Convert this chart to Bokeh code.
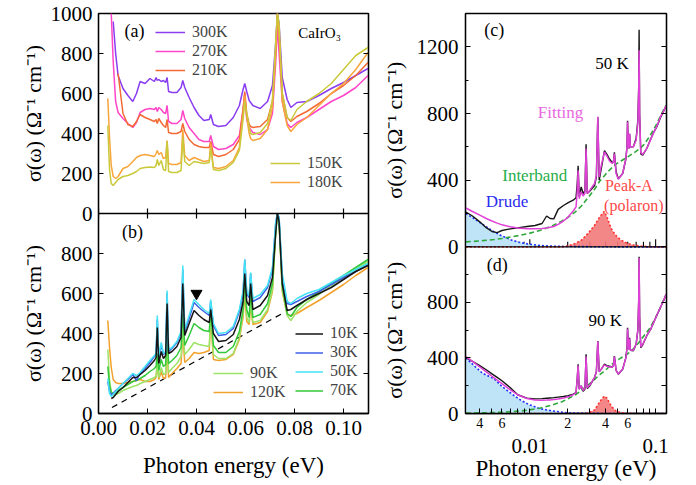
import math
from bokeh.plotting import figure
from bokeh.models import (Range1d, LinearAxis, LogAxis, FixedTicker, Legend, LegendItem,
                          Label, PrintfTickFormatter, CustomJSTickFormatter, Span)
from bokeh.layouts import row
from bokeh.embed import file_html
from bokeh.resources import INLINE

nan = float("nan")
FONT = "Liberation Serif"
YLABEL = "σ(ω) (Ω⁻¹ cm⁻¹)"

# ---------------- data: panels (a) and (b), photon energy in eV ----------------
E_ab = [0.0038, 0.0045, 0.0052, 0.0060, 0.0070, 0.0080, 0.0100, 0.0120, 0.0140, 0.0155,
        0.0170, 0.0190, 0.0210, 0.0228, 0.0235, 0.0240, 0.0246, 0.0256, 0.0265, 0.0274,
        0.0280, 0.0286, 0.0300, 0.0320, 0.0337, 0.0344, 0.0352, 0.0370, 0.0390, 0.0410,
        0.0430, 0.0452, 0.0458, 0.0469, 0.0490, 0.0520, 0.0550, 0.0575, 0.0590, 0.0597,
        0.0605, 0.0615, 0.0621, 0.0630, 0.0660, 0.0690, 0.0710, 0.0723, 0.0730, 0.0737,
        0.0750, 0.0770, 0.0785, 0.0810, 0.0850, 0.0900, 0.0950, 0.1000, 0.1050, 0.1100]

# panel (a)
s300 = [nan, nan, nan, 960, 800, 690, 625, 590, 560, 600,
        660, 650, 675, 660, 680, 665, 670, 660, 665, 655,
        680, 610, 605, 605, 630, 665, 630, 580, 530, 490,
        465, 470, 495, 445, 435, 440, 480, 540, 620, 650,
        610, 565, 555, 540, 525, 560, 640, 850, 1000, 950,
        680, 570, 530, 555, 560, 590, 625, 655, 690, 725]
s270 = [nan, nan, 1000, 760, 560, 505, 475, 450, 430, 455,
        505, 520, 525, 520, 530, 510, 530, 520, 505, 500,
        540, 460, 450, 450, 470, 515, 475, 430, 400, 370,
        360, 360, 390, 335, 320, 325, 345, 390, 520, 600,
        470, 430, 420, 405, 395, 420, 500, 750, 940, 800,
        560, 450, 430, 455, 480, 520, 560, 590, 630, 690]
s210 = [nan, nan, nan, nan, nan, 700, 500, 445, 435, 460,
        495, 480, 470, 460, 470, 450, 475, 455, 440, 430,
        470, 405, 400, 400, 410, 450, 410, 370, 345, 335,
        330, 330, 360, 295, 285, 295, 320, 370, 520, 610,
        500, 445, 435, 430, 435, 470, 560, 800, 1000, 900,
        600, 480, 460, 485, 510, 550, 600, 640, 690, 755]
s180 = [575, 380, 240, 185, 175, 185, 225, 235, 260, 280,
        290, 295, 290, 285, 300, 315, 295, 305, 275, 280,
        365, 250, 245, 245, 255, 420, 290, 265, 280, 270,
        260, 265, 350, 230, 225, 235, 265, 330, 500, 590,
        480, 400, 375, 365, 375, 420, 530, 800, 1000, 900,
        560, 440, 410, 445, 480, 540, 600, 650, 720, 805]
s150 = [440, 220, 150, 140, 155, 170, 185, 190, 200, 210,
        225, 230, 232, 230, 240, 270, 240, 265, 220, 215,
        360, 210, 205, 205, 215, 380, 260, 240, 260, 255,
        250, 255, 330, 220, 215, 225, 255, 315, 470, 560,
        500, 430, 400, 395, 405, 450, 570, 850, 1000, 950,
        600, 480, 465, 520, 560, 600, 650, 720, 790, 830]

# panel (b)
s10 = [nan, nan, 75, 80, 95, 110, 130, 155, 180, 180,
       195, 215, 240, 265, 280, 430, 250, 310, 275, 290,
       550, 300, 310, 335, 380, 650, 390, 450, 515, 490,
       470, 455, 520, 400, 360, 365, 395, 470, 560, 700,
       560, 540, 650, 520, 540, 590, 680, 900, 1000, 960,
       650, 515, 520, 540, 570, 600, 630, 670, 710, 740]
s30 = [160, 110, 95, 100, 115, 125, 150, 170, 195, 165,
       200, 225, 255, 285, 295, 470, 275, 345, 295, 305,
       600, 310, 325, 355, 400, 720, 410, 475, 555, 530,
       510, 490, 560, 440, 390, 395, 425, 510, 600, 770,
       600, 580, 700, 560, 580, 630, 720, 950, 1000, 980,
       680, 550, 545, 560, 585, 610, 645, 680, 710, 745]
s50 = [175, 100, 85, 95, 110, 125, 150, 175, 200, 190,
       205, 235, 265, 290, 300, 490, 285, 355, 300, 310,
       615, 320, 330, 360, 410, 740, 420, 490, 570, 545,
       520, 500, 570, 450, 400, 405, 435, 520, 610, 770,
       610, 590, 705, 575, 595, 640, 730, 950, 1000, 980,
       700, 560, 550, 575, 600, 620, 655, 690, 720, 750]
s70 = [235, 140, 105, 100, 105, 115, 130, 145, 160, 165,
       175, 190, 210, 225, 235, 300, 215, 270, 235, 245,
       420, 250, 265, 290, 330, 500, 340, 390, 450, 430,
       415, 410, 520, 340, 305, 305, 335, 410, 520, 680,
       520, 480, 620, 480, 495, 550, 650, 900, 1000, 960,
       640, 500, 485, 530, 570, 610, 650, 690, 730, 770]
s90 = [320, 170, 110, 95, 95, 100, 115, 125, 135, 140,
       150, 160, 170, 180, 185, 260, 180, 230, 195, 200,
       360, 205, 225, 250, 285, 420, 295, 320, 355, 345,
       340, 335, 500, 295, 275, 275, 300, 380, 500, 650,
       480, 455, 560, 455, 465, 520, 620, 900, 1000, 960,
       620, 490, 465, 510, 555, 595, 640, 680, 720, 760]
s120 = [465, 330, 230, 170, 155, 150, 150, 155, 160, 165,
        170, 160, 160, 170, 180, 250, 170, 210, 175, 180,
        330, 180, 200, 225, 250, 400, 255, 275, 305, 300,
        305, 315, 480, 270, 265, 270, 295, 370, 480, 600,
        460, 445, 540, 445, 455, 510, 610, 900, 1000, 960,
        610, 495, 490, 500, 530, 565, 605, 645, 690, 730]

base_x = [0.0055, 0.075]      # dashed guide in (b)
base_y = [30, 500]
tri_x = [0.040]               # marker in (b)
tri_y = [600]

# ---------------- data: panels (c) 50 K and (d) 90 K ----------------
E_cd = [0.0031, 0.0035, 0.0040, 0.0045, 0.0050, 0.0055, 0.0060, 0.0070, 0.0080, 0.0095,
        0.0110, 0.0125, 0.0136, 0.0145, 0.0155, 0.0168, 0.0185, 0.0202, 0.0221, 0.0233,
        0.0238, 0.0242, 0.0247, 0.0256, 0.0265, 0.0274, 0.0280, 0.0286, 0.0300, 0.0327,
        0.0338, 0.0347, 0.0356, 0.0370, 0.0392, 0.0410, 0.0430, 0.0452, 0.0462, 0.0470,
        0.0485, 0.0505, 0.0547, 0.0580, 0.0592, 0.0598, 0.0607, 0.0615, 0.0621, 0.0630,
        0.0665, 0.0700, 0.0722, 0.0733, 0.0739, 0.0746, 0.0762, 0.0790, 0.0850, 0.0914,
        0.0970, 0.1030, 0.1100, 0.1160, 0.1210]
data50 = [209, 185, 150, 115, 92, 85, 98, 108, 114, 122,
          128, 140, 185, 170, 168, 225, 248, 265, 280, 295,
          380, 487, 300, 360, 320, 335, 615, 320, 335, 368,
          420, 778, 400, 470, 577, 555, 527, 505, 510, 567,
          450, 408, 440, 527, 600, 756, 620, 590, 676, 600,
          600, 650, 760, 950, 1303, 800, 557, 550, 590, 647,
          690, 726, 780, 815, 846]
fit50 = [233, 212, 190, 170, 155, 142, 132, 120, 113, 108,
         108, 110, 113, 117, 122, 135, 155, 180, 215, 240,
         330, 460, 290, 330, 305, 320, 590, 320, 340, 380,
         430, 780, 420, 490, 570, 545, 515, 500, 510, 560,
         440, 405, 440, 530, 600, 750, 610, 590, 680, 600,
         600, 640, 740, 930, 1180, 800, 565, 555, 590, 645,
         690, 730, 785, 815, 846]
data90 = [402, 375, 345, 315, 285, 260, 236, 185, 135, 110,
          105, 107, 110, 112, 114, 118, 122, 128, 140, 150,
          250, 355, 175, 200, 160, 175, 426, 180, 200, 259,
          300, 521, 300, 320, 355, 345, 340, 335, 345, 414,
          310, 283, 319, 402, 470, 617, 500, 462, 545, 455,
          452, 500, 600, 800, 1128, 700, 474, 495, 560, 607,
          660, 714, 770, 815, 857]
fit90 = [410, 375, 335, 300, 268, 240, 215, 170, 135, 108,
         98, 96, 97, 98, 100, 105, 112, 120, 135, 150,
         250, 345, 175, 200, 165, 180, 410, 185, 205, 260,
         300, 520, 300, 320, 350, 340, 335, 335, 345, 410,
         310, 285, 320, 400, 470, 610, 500, 460, 540, 455,
         455, 500, 600, 800, 1120, 700, 480, 500, 560, 610,
         660, 715, 770, 815, 857]

E_comp = [0.0031, 0.0036, 0.0042, 0.0052, 0.0060, 0.0072, 0.0085, 0.0098, 0.0120, 0.0150,
          0.0180, 0.0200, 0.0230, 0.0257, 0.0290, 0.0327, 0.0360, 0.0390, 0.0410, 0.0443,
          0.0480, 0.0530, 0.0600, 0.0675, 0.0750, 0.0800, 0.0900, 0.1000, 0.1100, 0.1210]
drude50 = [200, 170, 135, 90, 65, 40, 25, 16, 8, 4,
           2.5, 2, 1.5, 1, 1, 0.5, 0.5, 0.5, 0.5, 0.5,
           0, 0, 0, 0, 0, 0, 0, 0, 0, 0]
inter50 = [30, 33, 37, 44, 50, 60, 70, 80, 98, 125,
           155, 175, 210, 245, 295, 345, 395, 425, 445, 470,
           495, 515, 540, 565, 590, 610, 665, 725, 790, 850]
peak50 = [0, 0, 0, 0, 0, 0, 0, 0, 0, 0,
          0, 5, 20, 40, 80, 129, 180, 212, 180, 110,
          70, 40, 20, 10, 5, 3, 1, 0, 0, 0]
drude90 = [400, 345, 290, 250, 195, 140, 95, 65, 35, 19,
           9, 5, 3, 2, 1, 1, 0.5, 0.5, 0.5, 0.5,
           0, 0, 0, 0, 0, 0, 0, 0, 0, 0]
inter90 = [3, 4, 5, 7, 9, 13, 18, 25, 38, 60,
           85, 105, 135, 165, 205, 245, 280, 305, 322, 350,
           375, 400, 430, 470, 520, 555, 615, 690, 770, 857]
peak90 = [0, 0, 0, 0, 0, 0, 0, 0, 0, 0,
          0, 0, 0, 0, 3, 25, 85, 125, 110, 55,
          20, 6, 2, 0.5, 0, 0, 0, 0, 0, 0]

# ---------------- ticks ----------------
x_ticks_ab = [0.0, 0.02, 0.04, 0.06, 0.08, 0.10]
y_ticks_a = [0, 200, 400, 600, 800, 1000]
y_ticks_b = [0, 200, 400, 600, 800]
y_ticks_c = [0, 400, 800, 1200]
y_minor_c = [200, 600, 1000]
y_ticks_d = [0, 400, 800]
y_minor_d = [200, 600, 1000]
log_major = [0.01, 0.1]
log_minor = [0.004, 0.005, 0.006, 0.007, 0.008, 0.009,
             0.02, 0.03, 0.04, 0.05, 0.06, 0.07, 0.08, 0.09]
log_small = [0.004, 0.006, 0.02, 0.04, 0.06]
log_small_labels = ["4", "6", "2", "4", "6"]

EMPTY = CustomJSTickFormatter(code="return ''")
H = 485
TOP_L, BOT = 13, 72
TOP_R = 10


def style_axis(ax, size="21px"):
    ax.axis_line_color = "black"
    ax.axis_line_width = 1.3
    ax.major_tick_line_color = "black"
    ax.minor_tick_line_color = "black"
    ax.major_tick_in = 5
    ax.major_tick_out = 0
    ax.minor_tick_in = 3
    ax.minor_tick_out = 0
    ax.major_label_text_font = FONT
    ax.major_label_text_font_size = size
    ax.major_label_text_color = "black"
    ax.axis_label_text_font = FONT
    ax.axis_label_text_font_style = "normal"
    ax.axis_label_text_font_size = "23px"
    ax.axis_label_text_color = "black"


def base_fig(**kw):
    p = figure(output_backend="svg", toolbar_location=None, **kw)
    p.grid.visible = False
    p.outline_line_color = "black"
    p.outline_line_width = 1.3
    p.background_fill_color = "white"
    p.border_fill_color = "white"
    return p


def title_fig(width, y_range, extra, top):
    t = figure(width=width, height=H, x_range=Range1d(0, 1), y_range=y_range,
               output_backend="svg", toolbar_location=None,
               x_axis_location=None, y_axis_location=None,
               min_border_left=0, min_border_right=0, min_border_top=top, min_border_bottom=BOT)
    t.extra_y_ranges = extra
    t.grid.visible = False
    t.outline_line_color = None
    t.background_fill_color = "white"
    t.border_fill_color = "white"
    return t


def legend(items, loc, glyph_w=30, lh=18):
    return Legend(items=items, location=loc, margin=0, padding=0, spacing=1,
                  glyph_width=glyph_w, glyph_height=lh, label_height=lh,
                  label_standoff=7, label_text_font=FONT, label_text_font_size="16px",
                  border_line_alpha=0, background_fill_alpha=0)


def label(p, x, y, text, size="17px", color="black", angle=0.0, rng="default"):
    p.add_layout(Label(x=x, y=y, text=text, text_font=FONT, text_font_size=size,
                       text_color=color, text_align="center", text_baseline="middle",
                       angle=angle, y_range_name=rng))


# =============== left column: (a) on top, (b) below, one frame ===============
yr_l = Range1d(0, 2000)            # carries (b)
yr_a = Range1d(-1000, 1000)        # puts (a) in the upper half
A_OFF = 1000

fl = base_fig(width=335, height=H, x_range=Range1d(0, 0.1102), y_range=yr_l,
              min_border_left=53, min_border_right=12, min_border_top=TOP_L, min_border_bottom=BOT)
fl.extra_y_ranges = {"a": yr_a}

fl.xaxis.ticker = FixedTicker(ticks=x_ticks_ab)
fl.xaxis.formatter = PrintfTickFormatter(format="%.2f")
style_axis(fl.xaxis[0])
fl.xaxis.major_label_standoff = 7
fl.xaxis.axis_label = "Photon energy (eV)"
fl.xaxis.axis_label_standoff = 15

left_ticks = y_ticks_b + [v + A_OFF for v in y_ticks_a]
left_labels = [str(v) for v in y_ticks_b] + [str(v) for v in y_ticks_a]
fl.yaxis.ticker = FixedTicker(ticks=left_ticks)
fl.yaxis.major_label_overrides = dict(zip(left_ticks, left_labels))
style_axis(fl.yaxis[0])
fl.yaxis.major_label_standoff = 6
rl = LinearAxis(ticker=FixedTicker(ticks=left_ticks), formatter=EMPTY)
style_axis(rl)
rl.major_label_standoff = 0
fl.add_layout(rl, "right")

fl.add_layout(Span(location=A_OFF, dimension="width", line_color="black", line_width=1.3))
fl.segment(x0=x_ticks_ab, y0=[A_OFF - 25] * len(x_ticks_ab), x1=x_ticks_ab,
           y1=[A_OFF + 25] * len(x_ticks_ab), line_color="black", line_width=1.2)

ca = {"300K": "#8a3cf0", "270K": "#ff45c8", "210K": "#f46a35", "150K": "#c9c93a", "180K": "#f8a53c"}
r300 = fl.line(E_ab, s300, color=ca["300K"], line_width=1.5, y_range_name="a")
r270 = fl.line(E_ab, s270, color=ca["270K"], line_width=1.5, y_range_name="a")
r210 = fl.line(E_ab, s210, color=ca["210K"], line_width=1.5, y_range_name="a")
r180 = fl.line(E_ab, s180, color=ca["180K"], line_width=1.5, y_range_name="a")
r150 = fl.line(E_ab, s150, color=ca["150K"], line_width=1.5, y_range_name="a")

cb = {"10K": "#151515", "30K": "#3d5fe6", "50K": "#45e3f5", "70K": "#33c83a", "90K": "#9de466", "120K": "#f2a22c"}
fl.line(base_x, base_y, color="black", line_width=1.2, line_dash="6 5")
r120 = fl.line(E_ab, s120, color=cb["120K"], line_width=1.5)
r90 = fl.line(E_ab, s90, color=cb["90K"], line_width=1.5)
r70 = fl.line(E_ab, s70, color=cb["70K"], line_width=1.5)
r30 = fl.line(E_ab, s30, color=cb["30K"], line_width=1.5)
r50 = fl.line(E_ab, s50, color=cb["50K"], line_width=1.5)
r10 = fl.line(E_ab, s10, color=cb["10K"], line_width=1.5)
fl.scatter(tri_x, tri_y, marker="inverted_triangle", size=11, color="black")

fl.add_layout(legend([LegendItem(label="300K", renderers=[r300]),
                      LegendItem(label="270K", renderers=[r270]),
                      LegendItem(label="210K", renderers=[r210])], (57, 334)), "center")
fl.add_layout(legend([LegendItem(label="150K", renderers=[r150]),
                      LegendItem(label="180K", renderers=[r180])], (172, 222), lh=16), "center")
fl.add_layout(legend([LegendItem(label="90K", renderers=[r90]),
                      LegendItem(label="120K", renderers=[r120])], (115, 12)), "center")
fl.add_layout(legend([LegendItem(label="10K", renderers=[r10]),
                      LegendItem(label="30K", renderers=[r30]),
                      LegendItem(label="50K", renderers=[r50]),
                      LegendItem(label="70K", renderers=[r70])], (197, 14), glyph_w=28, lh=17), "center")

label(fl, 0.0147, 915, "(a)", size="18px", rng="a")
label(fl, 0.0902, 905, "CaIrO₃", size="15px", rng="a")
label(fl, 0.0139, 910, "(b)", size="18px")

# y-axis titles for (a) and (b), in a strip left of the frame sharing its y ranges
tl = title_fig(45, yr_l, {"a": yr_a}, TOP_L)
label(tl, 0.73, 500, YLABEL, size="22px", angle=math.pi / 2, rng="a")
label(tl, 0.73, 500, YLABEL, size="22px", angle=math.pi / 2)

# =============== right column: (c) on top, (d) below, one frame ===============
yr_r = Range1d(0, 2880)            # carries (d)
yr_c = Range1d(-1000, 1400)        # puts (c) in the upper part
C_OFF = 1200                       # (c)'s zero on the default range
C_SCALE = 1.2                      # default-range units per (c) unit


def c_to_d(v):
    return int(round(C_OFF + C_SCALE * v))


fr = base_fig(width=283, height=H, x_axis_type="log", x_range=Range1d(0.00308, 0.122),
              y_range=yr_r, min_border_left=50, min_border_right=30,
              min_border_top=TOP_R, min_border_bottom=BOT)
fr.extra_y_ranges = {"c": yr_c}

rt = y_ticks_d + [c_to_d(v) for v in y_ticks_c]
rt_labels = [str(v) for v in y_ticks_d] + [str(v) for v in y_ticks_c]
fr.yaxis.ticker = FixedTicker(ticks=rt, minor_ticks=y_minor_d + [c_to_d(v) for v in y_minor_c])
fr.yaxis.major_label_overrides = dict(zip(rt, rt_labels))
style_axis(fr.yaxis[0])
fr.yaxis.major_label_standoff = 7
rr_ticks = sorted(y_ticks_d + y_minor_d + [c_to_d(v) for v in y_ticks_c + y_minor_c])
rr = LinearAxis(ticker=FixedTicker(ticks=rr_ticks), formatter=EMPTY)
style_axis(rr)
rr.major_label_standoff = 0
fr.add_layout(rr, "right")

fr.xaxis.ticker = FixedTicker(ticks=log_small, minor_ticks=[0.005, 0.007, 0.008, 0.009, 0.01,
                                                          0.03, 0.05, 0.07, 0.08, 0.09, 0.1])
fr.xaxis.formatter = PrintfTickFormatter(format="%g")
style_axis(fr.xaxis[0], size="14px")
fr.xaxis.major_label_overrides = dict(zip(log_small, log_small_labels))
fr.xaxis.major_label_standoff = 4
fr.xaxis.minor_tick_in = 5
ax2 = LogAxis(ticker=FixedTicker(ticks=log_major), formatter=PrintfTickFormatter(format="%g"))
style_axis(ax2)
ax2.axis_line_color = None
ax2.major_tick_in = 0
ax2.minor_tick_in = 0
ax2.major_label_standoff = 8
ax2.axis_label = "Photon energy (eV)"
ax2.axis_label_standoff = 0
fr.add_layout(ax2, "below")

fr.add_layout(Span(location=C_OFF, dimension="width", line_color="black", line_width=1.3))
fr.segment(x0=log_minor, y0=[C_OFF] * len(log_minor), x1=log_minor,
           y1=[C_OFF + 36] * len(log_minor), line_color="black", line_width=1.1)
fr.segment(x0=log_major, y0=[C_OFF] * len(log_major), x1=log_major,
           y1=[C_OFF + 54] * len(log_major), line_color="black", line_width=1.1)

for rng, dr, pk, ib, dat, fit in (("c", drude50, peak50, inter50, data50, fit50),
                                  ("default", drude90, peak90, inter90, data90, fit90)):
    fr.varea(x=E_comp, y1=0, y2=dr, fill_color="#bfe3f7", y_range_name=rng)
    fr.varea(x=E_comp, y1=0, y2=pk, fill_color="#f27a7a", fill_alpha=0.9, y_range_name=rng)
    fr.line(E_comp, dr, color="#2030ff", line_width=1.6, line_dash="2 2", y_range_name=rng)
    fr.line(E_comp, pk, color="#ff3030", line_width=1.6, line_dash="2 2", y_range_name=rng)
    fr.line(E_comp, ib, color="#2fa83a", line_width=1.6, line_dash="5 3", y_range_name=rng)
    fr.line(E_cd, dat, color="#151515", line_width=1.4, y_range_name=rng)
    fr.line(E_cd, fit, color="#e040d8", line_width=1.5, y_range_name=rng)

label(fr, 0.00521, 1301, "(c)", size="18px", rng="c")
label(fr, 0.045, 1098, "50 K", rng="c")
label(fr, 0.01754, 806, "Fitting", color="#e868e0", rng="c")
label(fr, 0.01095, 430, "Interband", color="#27ad4a", rng="c")
label(fr, 0.00659, 275, "Drude", color="#2b2bf0", rng="c")
label(fr, 0.0613, 370, "Peak-A", color="#ff4848", size="16px", rng="c")
label(fr, 0.0671, 251, "(polaron)", color="#ff4848", size="16px", rng="c")
label(fr, 0.0055, 1071, "(d)", size="18px")
label(fr, 0.0397, 671, "90 K")

# y-axis titles for (c) and (d)
tr = title_fig(33, yr_r, {"c": yr_c}, TOP_R)
label(tr, 0.42, 700, YLABEL, size="22px", angle=math.pi / 2, rng="c")
label(tr, 0.42, 600, YLABEL, size="22px", angle=math.pi / 2)

layout = row(tl, fl, tr, fr)
open("out.html", "w").write(file_html(layout, INLINE))
